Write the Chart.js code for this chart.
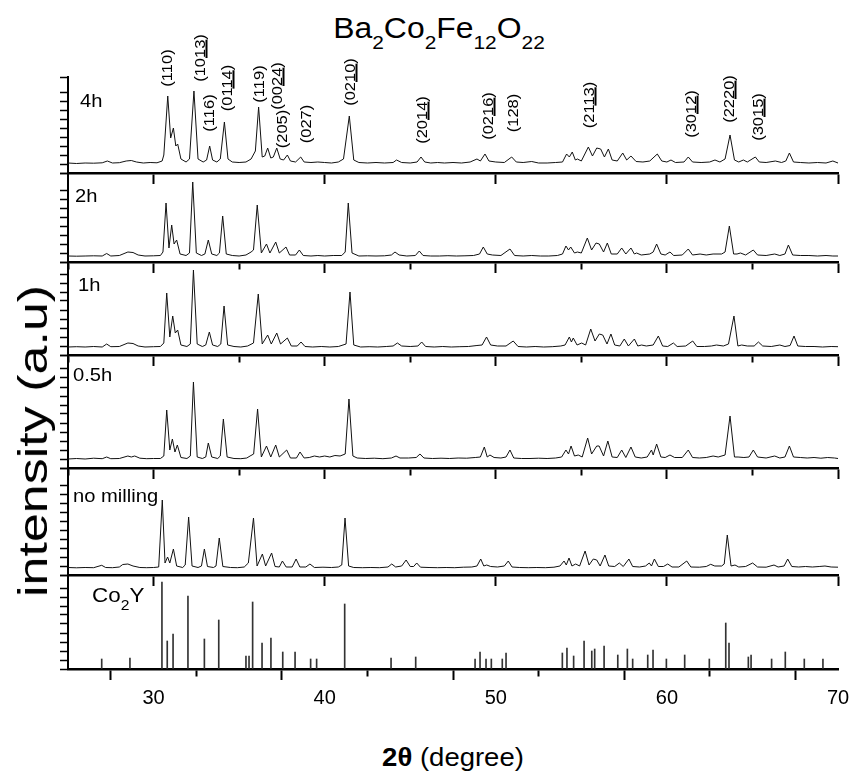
<!DOCTYPE html>
<html>
<head>
<meta charset="utf-8">
<script src="https://cdn.jsdelivr.net/npm/chart.js"></script>
<style>
  body { margin: 0; background: #fff; }
  #wrap { position: relative; width: 868px; height: 772px; background: #fff; overflow: hidden;
          font-family: "Liberation Sans", Arial, sans-serif; color: #000; }
  canvas { position: absolute; left: 0; }
  .txt { position: absolute; white-space: nowrap; line-height: 1; z-index: 5; }
  .hkl { position: absolute; white-space: nowrap; line-height: 1; font-size: 15px; z-index: 5;
         transform: translate(-50%, -50%) rotate(-90deg) scaleX(1.1); }
  .u { text-decoration: underline; text-decoration-thickness: 1.5px; }
  .pl { font-size: 18px; transform-origin: left top; transform: scaleX(1.12); }
</style>
</head>
<body>
<div id="wrap">
  <div class="txt" style="left:439px;top:14px;font-size:29px;transform:translate(-50%,0) scaleX(1.1)">Ba<span style="font-size:19px;vertical-align:-11px">2</span>Co<span style="font-size:19px;vertical-align:-11px">2</span>Fe<span style="font-size:19px;vertical-align:-11px">12</span>O<span style="font-size:19px;vertical-align:-11px">22</span></div>

  <div class="txt" style="left:33px;top:441px;font-size:40px;transform:translate(-50%,-50%) rotate(-90deg) scaleX(1.3)">intensity (a.u)</div>
  <div class="txt" style="left:453px;top:745px;font-size:25px;transform:translate(-50%,0) scaleX(1.1)"><b>2θ</b> (degree)</div>

  <div class="txt pl" style="left:80px;top:92px">4h</div>
  <div class="txt pl" style="left:75px;top:187px">2h</div>
  <div class="txt pl" style="left:78px;top:276px">1h</div>
  <div class="txt pl" style="left:73px;top:366px">0.5h</div>
  <div class="txt pl" style="left:73px;top:487px">no milling</div>
  <div class="txt pl" style="left:92px;top:585px;font-size:20px">Co<span style="font-size:14px;vertical-align:-8px">2</span>Y</div>

  <div class="hkl" style="left:166px;top:68px">(110)</div>
  <div class="hkl" style="left:199px;top:58px">(10<span class="u">13</span>)</div>
  <div class="hkl" style="left:208px;top:113px">(116)</div>
  <div class="hkl" style="left:226px;top:88px">(01<span class="u">14</span>)</div>
  <div class="hkl" style="left:258px;top:84px">(119)</div>
  <div class="hkl" style="left:276px;top:86px">(00<span class="u">24</span>)</div>
  <div class="hkl" style="left:281px;top:129px">(205)</div>
  <div class="hkl" style="left:305px;top:124px">(027)</div>
  <div class="hkl" style="left:349px;top:82px">(02<span class="u">10</span>)</div>
  <div class="hkl" style="left:421px;top:120px">(20<span class="u">14</span>)</div>
  <div class="hkl" style="left:487px;top:116px">(02<span class="u">16</span>)</div>
  <div class="hkl" style="left:512px;top:113px">(128)</div>
  <div class="hkl" style="left:588px;top:105px">(21<span class="u">13</span>)</div>
  <div class="hkl" style="left:690px;top:114px">(30<span class="u">12</span>)</div>
  <div class="hkl" style="left:728px;top:99px">(22<span class="u">20</span>)</div>
  <div class="hkl" style="left:757px;top:117px">(30<span class="u">15</span>)</div>
</div>

<script>
// 2theta range and axis ticks
const xMin = 25, xMax = 70, xStep = 5;
const xLabels = [30, 40, 50, 60, 70];

// measured patterns, [2theta, intensity (a.u.)]
const p4h = [[25,10],[25.5,9.5],[26,10],[26.5,9.8],[27,10.2],[27.3,12],[27.6,10],[28,10.3],[28.4,12],[28.7,12.5],[29,11],[29.4,10],[29.8,10.5],[30.2,10.2],[30.5,12],
  [30.6,18],[30.83,77],[31.0,35],[31.16,45],[31.3,27],[31.41,29],[31.6,14],[31.9,11],[32.1,14],[32.36,82],[32.6,14],[32.9,11],[33.1,13],[33.28,27],[33.45,13],[33.7,11],[33.9,14],[34.14,51],[34.35,14],[34.6,11],[35,10.5],[35.4,11],[35.7,14],[35.95,22],[36.14,66],[36.35,16],[36.5,17],[36.67,25],[36.85,15],[37.0,16],[37.2,25],[37.4,14],[37.6,13],[37.82,18],[38.0,12],[38.3,11],[38.6,16],[38.8,11],[39.2,10.5],[39.6,11],[40,10.5],[40.4,10],[40.8,11],[41.1,14],[41.44,57],[41.7,13],[42,10.5],[42.5,10],[43,10.5],[43.5,10],[44,10.5],[44.2,13],[44.5,10.5],[45,10],[45.4,11],[45.63,16],[45.85,11],[46.2,10],[46.6,10.5],[47,10],[47.5,10.5],[48,10],[48.5,11],[48.9,14],[49.1,12],[49.37,19],[49.6,12],[50,11],[50.5,10.5],[50.93,16],[51.2,11],[51.6,10.5],[52.1,11.5],[52.5,10],[53,10],[53.5,10.5],[53.9,11],[54.14,19],[54.3,16],[54.47,21],[54.65,13],[54.77,14],[55,12],[55.41,26],[55.65,17],[55.9,25],[56.13,24],[56.35,16],[56.58,24],[56.8,13],[57.1,12],[57.42,20],[57.65,13],[57.9,17],[58.2,11.5],[58.6,11],[59,12],[59.44,19],[59.7,12],[60,11],[60.24,13],[60.5,10.5],[61,11],[61.25,16],[61.5,11],[62,10.5],[62.5,11],[62.81,13],[63.1,11],[63.4,14],[63.69,38],[63.95,13],[64.2,11],[64.47,13],[64.7,11],[65.17,16],[65.4,11],[65.8,10.5],[66.34,12],[66.7,10.5],[66.95,12],[67.16,20],[67.4,11],[67.8,10.5],[68.3,10],[68.8,10.5],[69.3,10],[69.7,12],[70,10]];

const p2h = [[25,6],[25.5,5.8],[26,6],[26.5,6.2],[27,6],[27.26,8.5],[27.5,6],[28,6.5],[28.5,10],[28.8,9.5],[29.1,7],[29.5,6],[30,6.2],[30.4,6.5],[30.55,10],[30.73,59],[30.9,14],[31.06,37],[31.2,18],[31.35,22],[31.55,8],[31.9,6.5],[32.1,9],[32.29,80],[32.5,9],[32.8,6.5],[33.0,8],[33.2,22],[33.4,8],[33.7,6.5],[33.85,9],[34.04,46],[34.25,8],[34.6,6.5],[35,6],[35.4,7],[35.7,10],[35.84,12],[36.06,57],[36.3,9],[36.6,18],[36.8,9],[37.14,20],[37.35,9],[37.74,15],[37.95,7],[38.3,7],[38.52,12],[38.75,6.5],[39.2,6],[39.6,6.5],[40,6],[40.5,6.5],[41.0,6.5],[41.2,10],[41.38,59],[41.6,9],[42,6],[42.5,6.2],[43,6],[43.5,6.2],[43.9,7],[44.11,10],[44.35,7],[44.8,6],[45.3,6.5],[45.53,11],[45.75,6.5],[46.2,6],[46.7,6],[47.2,6.3],[47.7,6],[48.2,6.2],[48.7,6.5],[49.05,8],[49.27,15],[49.5,8],[49.8,7],[50.3,6.5],[50.83,13],[51.1,6.5],[51.6,6],[52.1,6.5],[52.6,6],[53.1,6],[53.6,6.5],[53.9,8],[54.1,16],[54.25,12],[54.38,15],[54.6,9],[54.77,10],[55.0,9],[55.35,24],[55.6,12],[55.86,19],[56.05,18],[56.3,10],[56.52,19],[56.75,8],[57.1,8],[57.36,14],[57.6,8],[57.9,14],[58.1,8],[58.23,9],[58.5,7],[59.0,8],[59.2,10],[59.4,18],[59.65,8],[59.9,7],[60.18,10],[60.4,6.5],[60.9,7],[61.25,13],[61.5,7],[61.94,8],[62.3,7],[62.7,8],[63.2,8],[63.4,10],[63.65,36],[63.9,8],[64.1,8],[64.3,9],[64.6,7],[65.05,12],[65.3,7],[65.8,6.5],[66.3,8],[66.6,6.5],[66.9,8],[67.1,17],[67.35,7],[67.8,6.5],[68.3,6.5],[68.8,6],[69.3,6.5],[69.7,6],[70,6]];

const p1h = [[25,8],[25.5,8.3],[26,8],[26.5,8.5],[27,8],[27.26,11],[27.5,8.3],[28,8.5],[28.5,12],[28.8,11.5],[29.1,9],[29.5,8],[30,8.3],[30.4,8.5],[30.6,12],[30.77,62],[30.95,18],[31.12,39],[31.27,22],[31.41,25],[31.6,10],[31.95,8.5],[32.15,11],[32.33,85],[32.55,11],[32.85,8.5],[33.05,10],[33.26,23],[33.45,10],[33.75,8.5],[33.93,11],[34.12,49],[34.33,10],[34.7,8.5],[35.1,8],[35.5,9],[35.84,12],[36.12,61],[36.35,11],[36.67,20],[36.88,11],[37.2,22],[37.42,11],[37.82,17],[38.05,9],[38.4,9],[38.62,13],[38.85,8.5],[39.3,8],[39.8,8.5],[40.3,8],[40.8,8.5],[41.25,11],[41.48,63],[41.7,10],[42.1,8],[42.6,8.3],[43.1,8],[43.6,8.5],[44.0,9],[44.25,12],[44.5,9],[45,8.5],[45.45,9],[45.67,13],[45.9,8.5],[46.4,8],[46.9,8.5],[47.4,8],[47.9,8.3],[48.4,8.5],[48.9,9.5],[49.2,10],[49.46,18],[49.7,10],[50.1,9],[50.6,9],[51.02,14],[51.3,8.5],[51.8,8],[52.3,8.5],[52.8,8],[53.3,8.3],[53.8,9],[54.05,10],[54.3,18],[54.42,13],[54.53,17],[54.75,10],[55.02,12],[55.25,10],[55.55,26],[55.8,14],[56.05,21],[56.25,20],[56.5,11],[56.73,21],[56.95,10],[57.25,9],[57.51,16],[57.75,9],[58.1,16],[58.3,9],[58.52,10],[58.8,9],[59.2,10],[59.5,19],[59.75,9],[60.05,8.5],[60.38,12],[60.6,8.5],[61.1,9],[61.51,14],[61.75,8.5],[62.2,8.5],[62.6,9],[62.9,10],[63.3,9],[63.6,11],[63.92,39],[64.15,9],[64.37,10],[64.7,9],[65.1,9],[65.35,13],[65.6,9],[66.1,8.5],[66.6,10],[66.9,8.5],[67.2,9.5],[67.43,19],[67.65,9],[68.1,8.5],[68.6,8.5],[69.1,8],[69.6,8.5],[70,8.3]];

const p05h = [[25,9],[25.5,9.5],[26,9],[26.5,9.8],[27,9.3],[27.26,11],[27.5,9.3],[28,9.5],[28.5,12],[28.7,11],[28.9,12],[29.2,9.8],[29.6,9.3],[30,9.5],[30.4,9.5],[30.6,12],[30.77,58],[30.95,18],[31.1,29],[31.25,16],[31.39,23],[31.6,10.5],[31.95,9.5],[32.15,12],[32.33,86],[32.55,11],[32.85,9.5],[33.05,11],[33.2,25],[33.4,11],[33.75,9.5],[33.9,12],[34.08,49],[34.3,11],[34.7,9.5],[35.1,9.3],[35.45,10],[35.64,12],[35.85,14],[36.08,59],[36.3,11],[36.6,22],[36.85,11],[37.14,23],[37.35,11],[37.78,18],[38.0,10],[38.35,10],[38.56,16],[38.8,10],[39.1,10.5],[39.4,12],[39.7,11],[40.0,12],[40.3,11],[40.6,12.5],[40.9,12],[41.2,14],[41.42,69],[41.65,12],[41.9,10],[42.4,9.5],[42.9,9.8],[43.4,9.3],[43.9,10],[44.17,12],[44.4,10],[44.9,10],[45.35,10.5],[45.57,14],[45.8,10],[46.3,9.5],[46.8,9.8],[47.3,9.5],[47.8,10],[48.3,9.8],[48.8,10.5],[49.1,11],[49.33,21],[49.5,11],[49.66,13],[49.9,10.5],[50.3,10],[50.6,11],[50.83,18],[51.05,10],[51.5,9.5],[52,9.5],[52.5,9.8],[53,9.5],[53.5,10],[53.85,11],[54.1,18],[54.25,14],[54.4,22],[54.6,12],[54.82,13],[55.05,11],[55.37,30],[55.6,14],[55.9,22],[56.04,22],[56.3,12],[56.55,27],[56.8,11],[57.1,10.5],[57.36,18],[57.6,10.5],[57.9,21],[58.15,11],[58.5,10],[58.85,11],[59.1,18],[59.2,13],[59.4,24],[59.65,11],[59.9,10.5],[60.18,13],[60.45,10.5],[60.9,10.5],[61.25,18],[61.5,10.5],[61.9,10],[62.3,10.5],[62.7,12],[63.0,11],[63.4,13],[63.69,52],[63.95,11],[64.16,11],[64.5,10.5],[64.8,11],[65.05,18],[65.3,11],[65.8,10],[66.3,12],[66.6,10],[66.9,11],[67.16,22],[67.4,11],[67.8,10.5],[68.2,10],[68.6,10.5],[69,9.8],[69.4,10.5],[69.8,10],[70,9.5]];

const pNoMill = [[25,7.5],[25.5,7.2],[26,7.5],[26.5,7.3],[26.97,9.7],[27.2,7.5],[27.6,7.3],[28,8],[28.2,10.5],[28.5,11],[28.8,9],[29.2,7.5],[29.6,7.3],[30,7.5],[30.3,8],[30.51,75],[30.67,12],[30.82,18],[30.95,12],[31.16,26],[31.35,9],[31.7,7.5],[31.85,10],[32.05,58],[32.25,9],[32.6,7.5],[32.8,9],[32.97,26],[33.15,8.5],[33.5,7.5],[33.65,9],[33.84,37],[34.05,8.5],[34.5,7.5],[34.9,7.3],[35.3,8],[35.54,12],[35.84,57],[36.05,9],[36.36,21],[36.55,9],[36.9,22],[37.1,8.5],[37.35,8],[37.53,14],[37.75,8],[38.1,8],[38.33,16],[38.55,8],[38.9,8],[39.14,11],[39.4,7.5],[39.9,7.8],[40.4,7.5],[40.8,8],[41.0,10],[41.19,57],[41.4,9],[41.7,7.5],[42.2,7.3],[42.7,7.5],[43.2,7.3],[43.7,8],[43.92,11],[44.15,8],[44.5,9],[44.76,15],[45.0,8.5],[45.2,8.5],[45.38,12],[45.6,7.8],[46.1,7.5],[46.6,7.3],[47.1,7.5],[47.6,7.3],[48.1,7.8],[48.6,8],[48.9,9],[49.12,16],[49.3,9],[49.47,10],[49.7,8.5],[50.1,8],[50.5,9],[50.73,14],[50.95,8],[51.4,7.5],[51.9,7.3],[52.4,7.5],[52.9,7.3],[53.4,7.8],[53.75,9],[53.99,14],[54.12,10],[54.28,17],[54.45,9],[54.67,11],[54.9,9],[55.22,24],[55.45,10],[55.7,16],[55.9,15],[56.1,9],[56.38,20],[56.6,9],[56.95,8.5],[57.22,12],[57.45,8.5],[57.78,16],[58.0,8.5],[58.4,8],[58.75,9],[58.97,12],[59.1,9],[59.27,16],[59.5,8.5],[59.8,8.5],[60.05,11],[60.3,8],[60.7,8],[61.16,14],[61.4,8],[61.9,7.8],[62.3,8.5],[62.56,10.7],[62.8,9],[63.2,9],[63.35,11],[63.53,40],[63.75,9],[63.98,10],[64.2,8],[64.6,8.5],[65.01,12],[65.3,8],[65.8,7.8],[66.26,10],[66.5,8],[66.85,9],[67.06,16],[67.3,8.5],[67.7,8],[68.1,8.5],[68.5,8],[68.9,8.5],[69.24,9],[69.6,8],[70,7.8]];

// Co2Y reference pattern (stick lines)
const co2yPos = [26.97,28.62,30.49,30.8,31.14,32.01,32.97,33.81,35.4,35.58,35.79,36.34,36.86,37.55,38.27,39.18,39.53,41.17,43.88,45.32,48.79,49.08,49.43,49.74,50.38,50.6,53.89,54.16,54.55,55.16,55.61,55.78,56.33,57.13,57.69,58.0,58.88,59.19,59.97,61.04,62.48,63.44,63.63,64.76,64.92,66.12,66.92,68.03,69.12];
const co2yInt = [10,11,87,28,35,73,30,49,13,13,67,26,31,17,17,10,10,65,11,12,10,17,10,10,10,16,16,21,13,28,18,20,23,14,20,10,14,19,10,14,10,46,26,12,14,10,17,10,10];

// panel layout (pixel positions on the page)
const panels = [
  { top: 77,  bottom: 173, data: p4h,     minor: false },
  { top: 173, bottom: 262, data: p2h,     minor: true },
  { top: 262, bottom: 355, data: p1h,     minor: true },
  { top: 355, bottom: 468, data: p05h,    minor: true },
  { top: 468, bottom: 575, data: pNoMill, minor: false },
  { top: 575, bottom: 669, sticks: true,  minor: true, last: true }
];

Chart.defaults.font.family = "'Liberation Sans', Arial, sans-serif";
Chart.defaults.color = '#000';

const wrap = document.getElementById('wrap');
const padTop = 3;

panels.forEach(p => {
  const xh = p.last ? 52 : 14;
  const h = p.bottom - p.top;
  const canvas = document.createElement('canvas');
  canvas.width = 868;
  canvas.height = h + padTop + xh;
  canvas.style.top = (p.top - padTop) + 'px';
  wrap.appendChild(canvas);

  let dataset;
  if (p.sticks) {
    dataset = {
      type: 'bar',
      data: co2yPos.map((x, i) => ({ x: x, y: co2yInt[i] })),
      backgroundColor: '#333',
      borderWidth: 0,
      barThickness: 1
    };
  } else {
    dataset = {
      type: 'line',
      data: p.data.map(d => ({ x: d[0], y: d[1] })),
      borderColor: '#111',
      borderWidth: 1,
      pointRadius: 0,
      tension: 0
    };
  }

  new Chart(canvas, {
    type: p.sticks ? 'bar' : 'line',
    data: { datasets: [dataset] },
    options: {
      responsive: false,
      animation: false,
      devicePixelRatio: 1,
      layout: { padding: { top: padTop, left: 0, right: 30, bottom: 0 } },
      plugins: { legend: { display: false }, tooltip: { enabled: false } },
      scales: {
        x: {
          type: 'linear',
          min: xMin, max: xMax,
          offset: false,
          afterFit: s => { s.height = xh; },
          border: { display: true, color: '#000', width: 2.5 },
          grid: {
            drawOnChartArea: false,
            tickLength: 11,
            tickWidth: 2,
            tickColor: ctx => (!p.minor && ctx.tick && ctx.tick.value % 10 !== 0) ? 'rgba(0,0,0,0)' : '#000',
            tickBorderDash: ctx => (ctx.tick && ctx.tick.value % 10 !== 0) ? [6, 100] : []
          },
          ticks: {
            display: !!p.last,
            stepSize: xStep,
            autoSkip: false,
            maxRotation: 0,
            padding: 6,
            font: { size: 20 },
            color: '#000',
            callback: v => xLabels.includes(v) ? String(v) : ''
          }
        },
        y: {
          type: 'linear',
          min: 0, max: h,
          afterFit: s => { s.width = 68; },
          border: { display: true, color: '#000', width: 2 },
          grid: { drawOnChartArea: false, tickLength: 8, tickWidth: 1.5, tickColor: '#000' },
          ticks: { display: false, stepSize: 9 }
        }
      }
    }
  });
});
</script>
</body>
</html>
